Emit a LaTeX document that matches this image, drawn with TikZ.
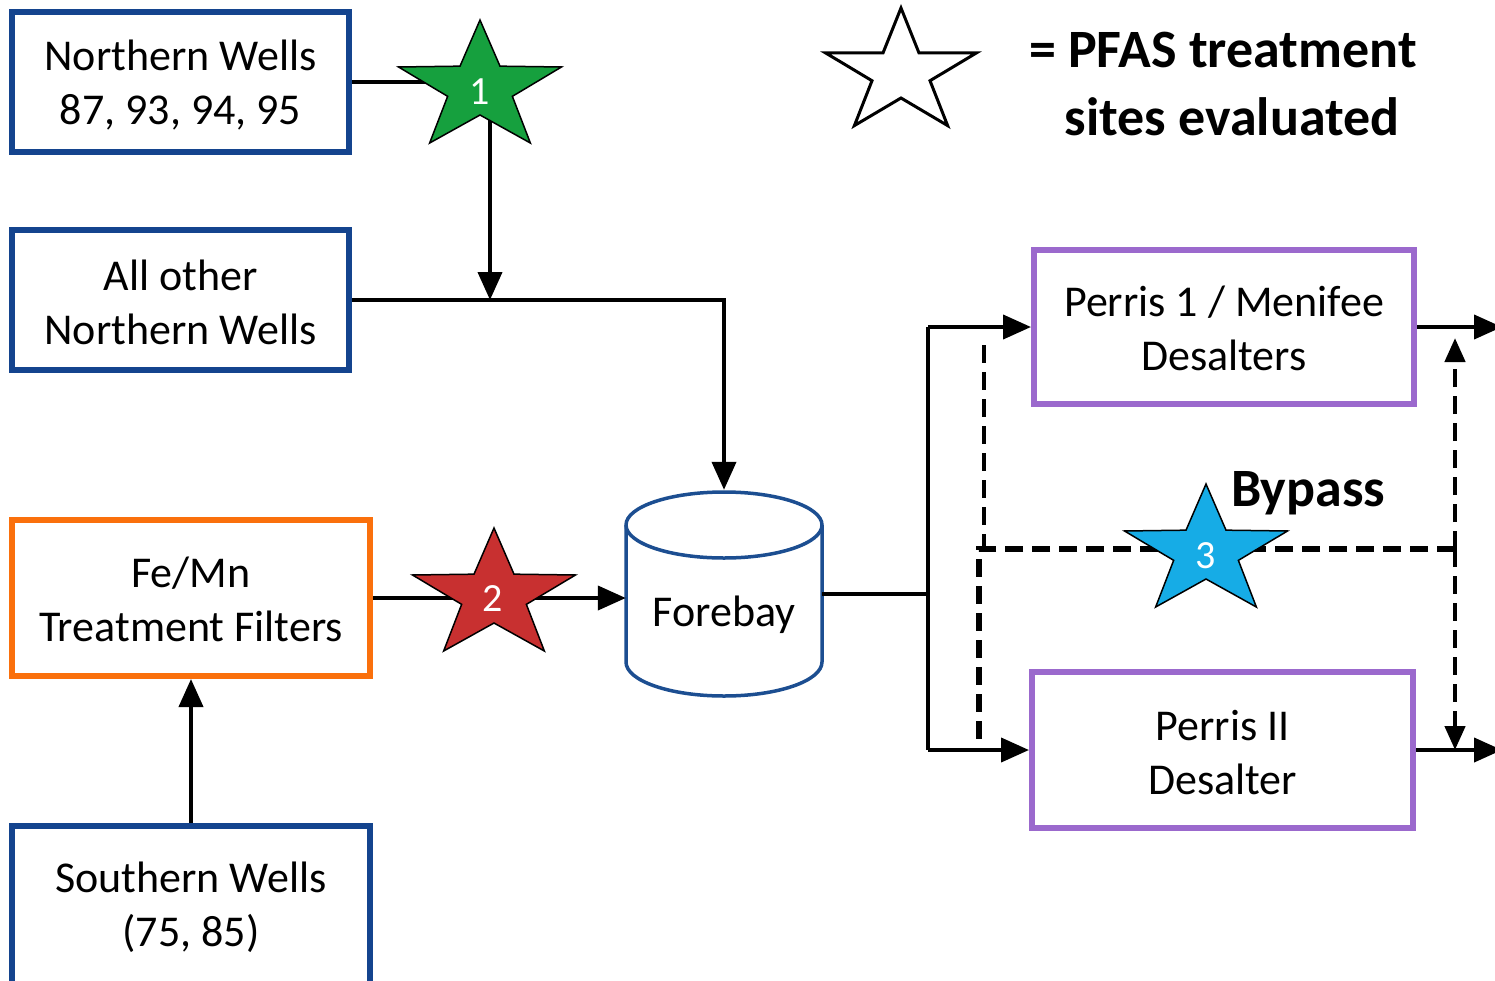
\documentclass[tikz,border=0pt]{standalone}
\usepackage{fontspec}
\setmainfont{Carlito}
\usetikzlibrary{arrows.meta}
\definecolor{navy}{RGB}{20,68,142}
\definecolor{fborder}{RGB}{28,78,145}
\definecolor{orng}{RGB}{250,112,12}
\definecolor{purp}{RGB}{155,105,205}
\definecolor{sgreen}{RGB}{22,160,62}
\definecolor{sred}{RGB}{200,48,48}
\definecolor{sblue}{RGB}{22,172,230}
\tikzset{
  pics/pstar/.style={code={\filldraw[line width=1.5pt,draw=black,fill=#1,xscale=1.26,yscale=-1]
    (90:68) -- (126:27) -- (162:68) -- (198:27) -- (234:68) -- (270:27) -- (306:68) -- (342:27) -- (18:68) -- (54:27) -- cycle;}},
  pics/legstar/.style={code={\filldraw[line width=3pt,draw=black,fill=white,xscale=1.22,yscale=-1]
    (90:65) -- (126:25) -- (162:65) -- (198:25) -- (234:65) -- (270:25) -- (306:65) -- (342:25) -- (18:65) -- (54:25) -- cycle;}},
}
\begin{document}
\begin{tikzpicture}[x=1pt,y=-1pt,
  box/.style={draw,line width=6pt,rectangle,align=center,inner sep=0pt,
    font=\fontsize{44}{54}\selectfont},
  lbl/.style={align=center,inner sep=0pt,font=\fontsize{44}{54}\selectfont},
  conn/.style={line width=4pt},
  arr/.style={line width=4pt,-{Triangle[length=28pt,width=24pt]}},
  dsh/.style={line width=6pt,dash pattern=on 18pt off 9pt},
  dshthin/.style={line width=4.5pt,dash pattern=on 18pt off 9pt},
  darr/.style={line width=4.5pt,dash pattern=on 18pt off 9pt,-{Triangle[length=24pt,width=20pt]}},
  stext/.style={text=white,font=\fontsize{40}{40}\selectfont,inner sep=0pt},
  big/.style={font=\fontsize{54}{60}\selectfont\bfseries,inner sep=0pt}
]
\useasboundingbox (0,0) rectangle (1495,980);
\clip (0,0) rectangle (1495,980);

% boxes
\node[box,draw=navy,minimum width=337pt,minimum height=140pt] (nw1) at (180.5,82) {};
\node[lbl] (nw1l) at (180.5,85) {Northern Wells\\87, 93, 94, 95};
\node[box,draw=navy,minimum width=337pt,minimum height=140pt] (nw2) at (180.5,300) {};
\node[lbl] (nw2l) at (180.5,302) {All other\\Northern Wells};
\node[box,draw=orng,minimum width=358pt,minimum height=156pt] (fe) at (191,598) {};
\node[lbl] (fel) at (191,599) {Fe/Mn\\Treatment Filters};
\node[box,draw=navy,minimum width=358pt,minimum height=170pt] (sw) at (191,911) {};
\node[lbl] (swl) at (191,907) {Southern Wells\\(75, 85)};
\node[box,draw=purp,minimum width=380pt,minimum height=154pt] (p1) at (1224,327) {};
\node[lbl] (p1l) at (1224,328) {Perris 1 / Menifee\\Desalters};
\node[box,draw=purp,minimum width=381pt,minimum height=156pt] (p2) at (1222.5,750) {};
\node[lbl] (p2l) at (1222.5,753) {Perris II\\Desalter};

% forebay cylinder
\node[minimum width=196pt,minimum height=207pt,inner sep=0pt] (fb) at (724,593.5) {};
\draw[fborder,line width=3.5pt,fill=white]
  (626,525) -- (626,662) arc[start angle=180,end angle=360,x radius=98,y radius=-34]
  -- (822,525) arc[start angle=0,end angle=180,x radius=98,y radius=-33] -- cycle;
\draw[fborder,line width=3.5pt] (626,525) arc[start angle=180,end angle=360,x radius=98,y radius=-33];
\node[lbl] (fbl) at (724,615) {Forebay};

% coordinates
\coordinate (s1) at (480,88);
\coordinate (s2) at (494,596);
\coordinate (s3) at (1206,552);
\coordinate (j1) at (490,300);
\coordinate (jt) at (928,327);
\coordinate (jb) at (928,750);
\coordinate (o1) at (1502,327);
\coordinate (o2) at (1502,750);
\coordinate (d1) at (984,345);
\coordinate (d2) at (984,549);
\coordinate (d3) at (979,549);
\coordinate (d4) at (979,750);
\coordinate (d5) at (1455,549);
\coordinate (u1) at (1455,338);
\coordinate (u2) at (1455,750);

% connectors
\draw[conn] (nw1.east) -- (nw1.east -| s1);
\draw[arr] (s1 -| j1) -- (j1);
\draw[arr] (nw2.east) -- (nw2.east -| fb.north) -- (fb.north);
\draw[arr] (fe.east) -- (fe.east -| fb.west);
\draw[arr] (sw.north) -- (fe.south);
\draw[conn] (fb.east) -- (fb.east -| jt);
\draw[conn] (jt) -- (jb);
\draw[arr] (jt) -- (p1.west);
\draw[arr] (jb) -- (p2.west);
\draw[arr] (p1.east) -- (o1);
\draw[arr] (p2.east) -- (o2);

% bypass dashed
\draw[dshthin] (d1) -- (d2);
\draw[dsh] (d5) -- (d3) -- (d4);
\draw[darr] (d5) -- (u1);
\draw[darr] (d5) -- (u2);

% stars
\pic at (s1) {pstar=sgreen};
\node[stext] (n1) at (480,92) {1};
\pic at (s2) {pstar=sred};
\node[stext] (n2) at (493,599) {2};
\pic at (s3) {pstar=sblue};
\node[stext] (n3) at (1206,556) {3};

% labels
\node[big] (byp) at (1308,493) {Bypass};
\coordinate (ls) at (901,73);
\pic at (ls) {legstar};
\node[big] (leg1) at (1223,50) {= PFAS treatment};
\node[big] (leg2) at (1232,117) {sites evaluated};
\end{tikzpicture}
\end{document}
